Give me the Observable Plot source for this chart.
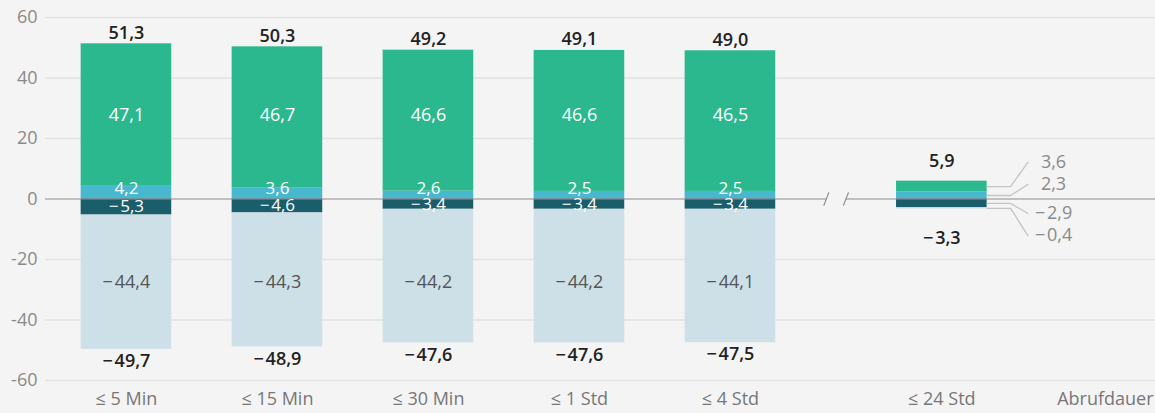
<!DOCTYPE html>
<html><head><meta charset="utf-8">
<script src="https://cdn.jsdelivr.net/npm/d3@7"></script>
<script src="https://cdn.jsdelivr.net/npm/@observablehq/plot@0.6"></script>
<style>
html,body{margin:0;padding:0;background:#f4f4f4;}
#chart svg{display:block;}
</style></head><body><div id="chart"></div>
<script>
// ---- data ----
const categories = ["≤ 5 Min", "≤ 15 Min", "≤ 30 Min", "≤ 1 Std", "≤ 4 Std", "≤ 24 Std"];
const seriesNames = ["Positiv klein", "Positiv groß", "Negativ klein", "Negativ groß"];
const posSmall = [4.2, 3.6, 2.6, 2.5, 2.5, 2.3];       // light blue
const posLarge = [47.1, 46.7, 46.6, 46.6, 46.5, 3.6];  // green
const negSmall = [-5.3, -4.6, -3.4, -3.4, -3.4, -2.9]; // dark teal
const negLarge = [-44.4, -44.3, -44.2, -44.2, -44.1, -0.4]; // pale blue
const posTotals = [51.3, 50.3, 49.2, 49.1, 49.0, 5.9];
const negTotals = [-49.7, -48.9, -47.6, -47.6, -47.5, -3.3];
const yTicks = [-60, -40, -20, 0, 20, 40, 60];
const axisTitle = "Abrufdauer";

// ---- layout ----
const colors = ["#48b8cf", "#2cb88f", "#1a5e6b", "#cde0e8"];
const breakAfter = 4, breakGap = 0.4, halfBar = 0.3;
const xPos = i => i + (i > breakAfter ? breakGap : 0);
const breakX = (xPos(breakAfter) + xPos(breakAfter + 1)) / 2;
const gapHalf = 0.065;
const xDomain = [-0.536, 6.815];
const outside = i => i > breakAfter; // labels with leader lines
const fmt = v => (v < 0 ? "\u2212\u200a" : "") + Math.abs(v).toFixed(1).replace(".", ",");

const rows = [];
categories.forEach((c, i) => {
  const x = xPos(i);
  rows.push({i, x, series: seriesNames[0], v: posSmall[i], y1: 0, y2: posSmall[i], k: 0});
  rows.push({i, x, series: seriesNames[1], v: posLarge[i], y1: posSmall[i], y2: posSmall[i] + posLarge[i], k: 1});
  rows.push({i, x, series: seriesNames[2], v: negSmall[i], y1: 0, y2: negSmall[i], k: 0});
  rows.push({i, x, series: seriesNames[3], v: negLarge[i], y1: negSmall[i], y2: negSmall[i] + negLarge[i], k: 1});
});
rows.forEach(d => d.mid = (d.y1 + d.y2) / 2);
const inside = rows.filter(d => !outside(d.i));
// large segments: labels aligned on one line (mid of the largest segment of that series)
const alignedMid = s => {
  const r = inside.filter(d => d.series === s);
  return r.reduce((a, b) => Math.abs(b.v) > Math.abs(a.v) ? b : a).mid;
};
inside.forEach(d => {
  if (d.k === 1) d.ty = alignedMid(d.series);
  else if (d.v > 0) d.ty = Math.max(d.mid, 3.3);
  else d.ty = Math.min(d.mid, -1.9);
});
const leader = rows.filter(d => outside(d.i)).map(d => {
  const s = d.v < 0 ? -1 : 1;
  return {...d, ly: s * (4.8 + d.k * 7.3)};
});
const leaderPts = leader.flatMap(d => [
  {id: d.series, x: d.x + halfBar, y: d.mid},
  {id: d.series, x: d.x + halfBar + 0.155, y: d.mid},
  {id: d.series, x: d.x + halfBar + 0.27, y: d.ly}
]);
const totals = categories.map((c, i) => ({i, x: xPos(i), p: posTotals[i], n: negTotals[i]}));

const font = "'Open Sans', 'Noto Sans', sans-serif";
const chart = Plot.plot({
  width: 1155, height: 413,
  marginTop: 17, marginBottom: 33, marginLeft: 45, marginRight: 0,
  style: {background: "transparent", fontFamily: font, fontSize: "18px"},
  x: {type: "linear", domain: xDomain, axis: null},
  y: {domain: [-60, 60], axis: null},
  color: {domain: seriesNames, range: colors},
  marks: [
    Plot.ruleY(yTicks.filter(d => d !== 0), {stroke: "#e2e2e2", strokeWidth: 1.5}),
    Plot.axisY({ticks: yTicks, tickSize: 0, tickPadding: 8, tickFormat: d => String(d), color: "#8a8a8a", fontSize: 18, label: null}),
    Plot.rect(rows, {x1: d => d.x - halfBar, x2: d => d.x + halfBar, y1: "y1", y2: "y2", fill: "series"}),
    Plot.ruleY([0], {x1: xDomain[0], x2: breakX - gapHalf, stroke: "#8c8c8c", strokeWidth: 1.2}),
    Plot.ruleY([0], {x1: breakX + gapHalf, x2: xDomain[1], stroke: "#8c8c8c", strokeWidth: 1.2}),
    Plot.link([-1, 1], {x1: s => breakX + s * gapHalf - 0.017, x2: s => breakX + s * gapHalf + 0.017, y1: -2.2, y2: 2.2, stroke: "#8c8c8c", strokeWidth: 1.2}),
    // inside labels
    Plot.text(inside.filter(d => d.k === 1 && d.v > 0), {x: "x", y: "ty", text: d => fmt(d.v), fill: "white", fontSize: 18, fontWeight: 500}),
    Plot.text(inside.filter(d => d.k === 0), {x: "x", y: "ty", text: d => fmt(d.v), fill: "white", fontSize: 17, fontWeight: 500}),
    Plot.text(inside.filter(d => d.k === 1 && d.v < 0), {x: "x", y: "ty", text: d => fmt(d.v), fill: "#555", fontSize: 18, fontWeight: 500}),
    // leader lines & labels
    Plot.line(leaderPts, {x: "x", y: "y", z: "id", stroke: "#c4c4c4", strokeWidth: 1.3, curve: "linear"}),
    Plot.text(leader.filter(d => d.v > 0), {x: d => d.x + halfBar + 0.27, y: "ly", dx: 13, text: d => fmt(d.v), textAnchor: "start", fill: "#8a8a8a", fontSize: 18}),
    Plot.text(leader.filter(d => d.v < 0), {x: d => d.x + halfBar + 0.27, y: "ly", dx: 7, text: d => fmt(d.v), textAnchor: "start", fill: "#8a8a8a", fontSize: 18}),
    // totals
    Plot.text(totals.filter(d => !outside(d.i)), {x: "x", y: "p", dy: -11, text: d => fmt(d.p), fill: "#222", fontWeight: 600, fontSize: 18}),
    Plot.text(totals.filter(d => !outside(d.i)), {x: "x", y: "n", dy: 12, text: d => fmt(d.n), fill: "#222", fontWeight: 600, fontSize: 18}),
    Plot.text(totals.filter(d => outside(d.i)), {x: "x", y: "p", dy: -20, text: d => fmt(d.p), fill: "#222", fontWeight: 600, fontSize: 18}),
    Plot.text(totals.filter(d => outside(d.i)), {x: "x", y: "n", dy: 29, text: d => fmt(d.n), fill: "#222", fontWeight: 600, fontSize: 18}),
    // category axis
    Plot.text(categories, {x: (d, i) => xPos(i), frameAnchor: "bottom", dy: 24, text: d => d, fill: "#777", fontSize: 18}),
    Plot.text([axisTitle], {frameAnchor: "bottom-right", dy: 24, dx: -2, textAnchor: "end", text: d => d, fill: "#777", fontSize: 18})
  ]
});
document.getElementById("chart").append(chart);
</script></body></html>
